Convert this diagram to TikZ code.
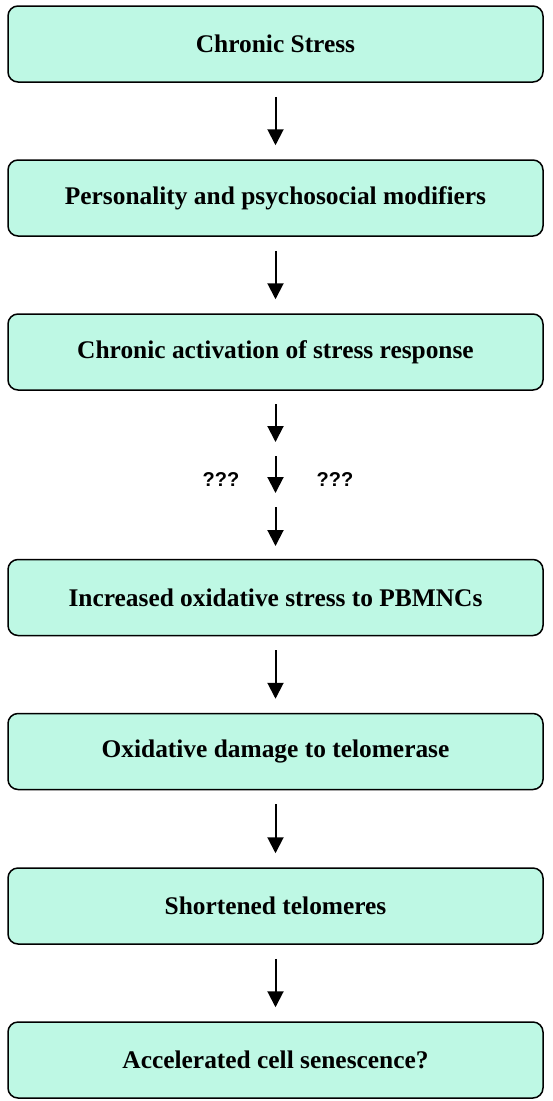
\documentclass[tikz,border=0pt]{standalone}
\usepackage{fontspec}
\setmainfont{Liberation Serif}
\newfontfamily\qfont{Liberation Sans}
\usetikzlibrary{arrows.meta}
\definecolor{boxfill}{RGB}{190,248,228}
\begin{document}
\begin{tikzpicture}[x=1pt,y=-1pt,
  stagebox/.style={draw=black, line width=1.5pt, fill=boxfill, rounded corners=10pt,
    minimum width=535pt, minimum height=76pt, inner sep=0pt,
    font=\fontsize{25.4}{30}\selectfont\bfseries},
  flow/.style={-{Triangle[length=16pt,width=16pt]}, line width=2pt},
  qmark/.style={font=\qfont\fontsize{20}{24}\selectfont\bfseries, inner sep=0pt}]
\useasboundingbox (0,0) rectangle (552,1101);
\node[stagebox] (b1) at (275.5,44) {Chronic Stress};
\node[stagebox] (b2) at (275.5,198) {Personality and psychosocial modifiers};
\node[stagebox] (b3) at (275.5,352) {Chronic activation of stress response};
\node[stagebox] (b4) at (275.5,597.5) {Increased oxidative stress to PBMNCs};
\node[stagebox] (b5) at (275.5,751.5) {Oxidative damage to telomerase};
\node[stagebox] (b6) at (275.5,906) {Shortened telomeres};
\node[stagebox] (b7) at (275.5,1060) {Accelerated cell senescence?};
\draw[flow] ([yshift=-14pt]b1.south) -- ([yshift=14pt]b2.north);
\draw[flow] ([yshift=-14pt]b2.south) -- ([yshift=14pt]b3.north);
\draw[flow] ([yshift=-14pt]b4.south) -- ([yshift=14pt]b5.north);
\draw[flow] ([yshift=-14pt]b5.south) -- ([yshift=14pt]b6.north);
\draw[flow] ([yshift=-14pt]b6.south) -- ([yshift=14pt]b7.north);
\coordinate (m1s) at (275.5,404);
\coordinate (m1e) at (275.5,442);
\coordinate (m2s) at (275.5,456);
\coordinate (m2e) at (275.5,493);
\coordinate (m3s) at (275.5,507);
\coordinate (m3e) at (275.5,546);
\draw[flow] (m1s) -- (m1e);
\draw[flow] (m2s) -- (m2e);
\draw[flow] (m3s) -- (m3e);
\node[qmark] (q1) at (221,480) {???};
\node[qmark] (q2) at (335,480) {???};
\end{tikzpicture}
\end{document}
